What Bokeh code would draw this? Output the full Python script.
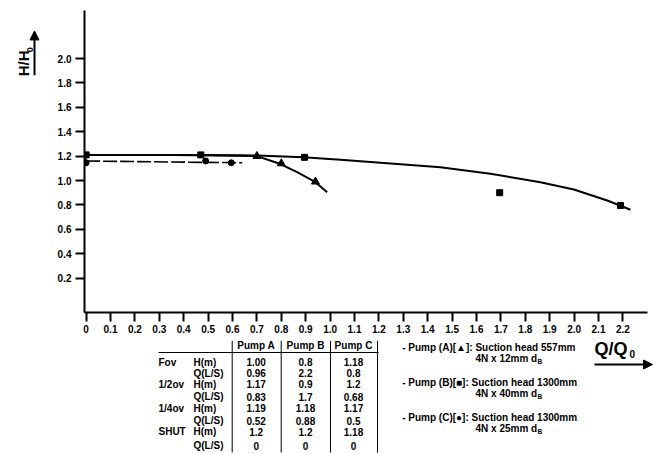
from bokeh.plotting import figure
from bokeh.models import (Range1d, FixedTicker, Arrow, NormalHead,
                          CustomJSTickFormatter, ColumnDataSource)
from bokeh.core.properties import value
from bokeh.layouts import column, row
from bokeh.embed import file_html
from bokeh.resources import INLINE

# ---------------- data ----------------
x_ticks = [0.0, 0.1, 0.2, 0.3, 0.4, 0.5, 0.6, 0.7, 0.8, 0.9, 1.0, 1.1, 1.2,
           1.3, 1.4, 1.5, 1.6, 1.7, 1.8, 1.9, 2.0, 2.1, 2.2]
y_ticks = [0.2, 0.4, 0.6, 0.8, 1.0, 1.2, 1.4, 1.6, 1.8, 2.0]

curve_a_q = [0.0, 0.35, 0.70, 0.794, 0.865, 0.94, 0.988]
curve_a_h = [1.21, 1.21, 1.20, 1.137, 1.068, 0.986, 0.904]
curve_b_q = [0.0, 0.5, 0.70, 0.89, 1.043, 1.452, 1.657, 1.862, 1.999, 2.136, 2.231]
curve_b_h = [1.21, 1.21, 1.205, 1.19, 1.170, 1.109, 1.055, 0.986, 0.926, 0.836, 0.76]
curve_c_q = [0.0, 0.64]
curve_c_h = [1.16, 1.145]

pump_a_q = [0.70, 0.80, 0.94]
pump_a_h = [1.20, 1.14, 0.99]
pump_a_open_q = [-0.02]
pump_a_open_h = [1.19]
pump_b_q = [0.0, 0.47, 0.895, 1.695, 2.19]
pump_b_h = [1.21, 1.21, 1.19, 0.90, 0.795]
pump_c_q = [0.0, 0.49, 0.595]
pump_c_h = [1.145, 1.16, 1.145]

table_cols = ["Pump A", "Pump B", "Pump C"]
table_rows = ["Fov", "1/2ov", "1/4ov", "SHUT"]
pump_a_H = ["1.00", "1.17", "1.19", "1.2"]
pump_a_Q = ["0.96", "0.83", "0.52", "0"]
pump_b_H = ["0.8", "0.9", "1.18", "1.2"]
pump_b_Q = ["2.2", "1.7", "0.88", "0"]
pump_c_H = ["1.18", "1.2", "1.17", "1.18"]
pump_c_Q = ["0.8", "0.68", "0.5", "0"]

note_line1 = ["- Pump (A)[▲]: Suction head 557mm",
              "- Pump (B)[■]: Suction head 1300mm",
              "- Pump (C)[●]: Suction head 1300mm"]
note_line2 = ["4N x 12mm d", "4N x 40mm d", "4N x 25mm d"]
note_sub = ["B", "B", "B"]

# ---------------- layout constants ----------------
W, H = 655, 454
LEFT_W = 44
TOP_H = 340
FL, FR, FT, FB = 84, 647, 10, 312
PX_X, PX_Y = 244.0, 122.0
X0PX, Y0PX = 85.6, 302.0
xs, xe = (FL - X0PX) / PX_X, (FR - X0PX) / PX_X
ys, ye = (Y0PX - FB) / PX_Y, (Y0PX - FT) / PX_Y

FONT = "Liberation Sans"


def blank(w, h):
    f = figure(width=w, height=h, output_backend="svg", toolbar_location=None,
               x_range=Range1d(0, w), y_range=Range1d(0, h),
               x_axis_type=None, y_axis_type=None,
               min_border=0, min_border_left=0, min_border_right=0,
               min_border_top=0, min_border_bottom=0)
    f.outline_line_color = None
    f.grid.visible = False
    return f


# ---------------- chart ----------------
p = figure(width=W - LEFT_W, height=TOP_H, output_backend="svg", toolbar_location=None,
           x_range=Range1d(xs, xe), y_range=Range1d(ys, ye),
           min_border_left=FL - LEFT_W, min_border_right=W - FR,
           min_border_top=FT, min_border_bottom=TOP_H - FB)
p.outline_line_color = None
p.grid.visible = False

for ax in (p.xaxis[0], p.yaxis[0]):
    ax.axis_line_width = 2
    ax.axis_line_color = "black"
    ax.major_tick_line_width = 2
    ax.major_tick_line_color = "black"
    ax.major_tick_out = 9
    ax.major_tick_in = 0
    ax.minor_tick_line_color = None
    ax.major_label_text_font = FONT
    ax.major_label_text_font_style = "bold"
    ax.major_label_text_font_size = "10px"
    ax.major_label_text_color = "black"

p.xaxis.ticker = FixedTicker(ticks=x_ticks)
p.yaxis.ticker = FixedTicker(ticks=y_ticks)
p.xaxis.formatter = CustomJSTickFormatter(code="return tick == 0 ? '0' : tick.toFixed(1);")
p.yaxis.formatter = CustomJSTickFormatter(code="return tick.toFixed(1);")
p.xaxis.major_label_standoff = 3
p.yaxis.major_label_standoff = 4

p.line(curve_b_q, curve_b_h, line_color="black", line_width=2)
p.line(curve_a_q, curve_a_h, line_color="black", line_width=2)
p.line(curve_c_q, curve_c_h, line_color="black", line_width=1.6, line_dash="14 3")

p.scatter(pump_a_q, pump_a_h, marker="triangle", size=8, color="black")
p.scatter(pump_a_open_q, pump_a_open_h, marker="triangle", size=10,
          fill_color="white", line_color="black", line_width=1.8)
p.scatter(pump_b_q, pump_b_h, marker="square", size=6, color="black")
p.scatter(pump_c_q, pump_c_h, marker="circle", size=6, color="black")

# ---------------- left panel: H/H0 ----------------
lf = blank(LEFT_W, TOP_H)


def ly(py):
    return TOP_H - py


ltxt = ColumnDataSource(dict(x=[23], y=[ly(74)], t=["H/H"]))
lf.text(x="x", y="y", text="t", source=ltxt, angle=1.5708,
        text_align="left", text_baseline="middle", text_font=value(FONT),
        text_font_size="15px", text_font_style="bold", text_color="black")
lsub = ColumnDataSource(dict(x=[29], y=[ly(47)], t=["0"]))
lf.text(x="x", y="y", text="t", source=lsub, angle=1.5708,
        text_align="left", text_baseline="middle", text_font=value(FONT),
        text_font_size="9px", text_font_style="bold", text_color="black")
lf.add_layout(Arrow(x_start=34, y_start=ly(73), x_end=34, y_end=ly(23), line_width=2,
                    end=NormalHead(size=9, fill_color="black", line_color="black")))

# ---------------- bottom panel: table and notes ----------------
BH = H - TOP_H
bf = blank(W, BH)


def by(py):
    return H - py


def texts(xlist, ylist, tlist, size="10px", align="left"):
    src = ColumnDataSource(dict(x=xlist, y=[by(v) for v in ylist], t=tlist))
    bf.text(x="x", y="y", text="t", source=src, text_align=align,
            text_baseline="middle", text_font=value(FONT), text_font_size=size,
            text_font_style="bold", text_color="black")


col_x = [255.7, 305.0, 353.0]
vlines = [231.7, 280.7, 330.0, 377.0]
bf.segment(x0=vlines, y0=[by(340)] * 4, x1=vlines, y1=[by(452)] * 4,
           line_color="black", line_width=1)
bf.segment(x0=[158], y0=[by(352)], x1=[378], y1=[by(352)], line_color="black", line_width=1.2)
texts(col_x, [344.5] * 3, table_cols, align="center")

row_h_y = [361.7, 383.5, 407.5, 431.0]
row_q_y = [372.5, 396.0, 420.0, 445.0]
texts([158] * 4, row_h_y, table_rows)
texts([193] * 4, row_h_y, ["H(m)"] * 4)
texts([193] * 4, row_q_y, ["Q(L/S)"] * 4)
for cx, hv, qv in zip(col_x, (pump_a_H, pump_b_H, pump_c_H), (pump_a_Q, pump_b_Q, pump_c_Q)):
    texts([cx] * 4, row_h_y, hv, align="center")
    texts([cx] * 4, row_q_y, qv, align="center")

note_y = [346.7, 381.7, 417.3]
texts([401.7] * 3, note_y, note_line1, size="10px")
texts([475] * 3, [v + 11 for v in note_y], note_line2, size="10px")
texts([537] * 3, [v + 14 for v in note_y], note_sub, size="6.5px")

# Q/Q0 title with arrow
texts([594], [348], ["Q/Q"], size="18px")
texts([629], [353], ["0"], size="10px")
bf.add_layout(Arrow(x_start=594, y_start=by(364), x_end=652, y_end=by(364), line_width=2,
                    end=NormalHead(size=9, fill_color="black", line_color="black")))

layout = column(row(lf, p), bf)
open("out.html", "w").write(file_html(layout, INLINE))
